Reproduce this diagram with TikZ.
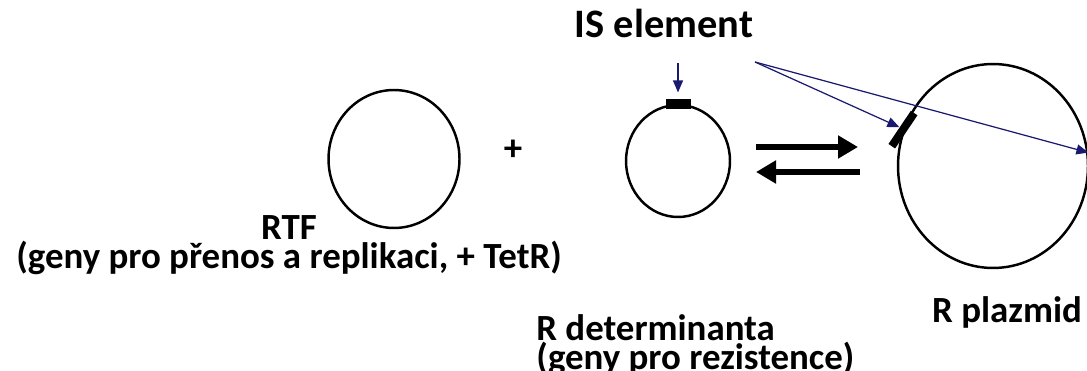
\documentclass[tikz,border=0pt]{standalone}
\usepackage{fontspec}
\setmainfont{Carlito}
\usetikzlibrary{shapes.geometric,arrows.meta}
\definecolor{isblue}{RGB}{25,25,112}
\tikzset{
  plasmid/.style={draw, ellipse, line width=1.4pt, inner sep=0pt},
  isbar/.style={fill=black, inner sep=0pt, minimum width=0.5cm, minimum height=0.2cm},
  ispointer/.style={isblue, line width=0.7pt, -{Triangle[length=0.24cm,width=0.2cm]}},
  eqarrow/.style={line width=0.14cm, -{Triangle[length=0.4cm,width=0.44cm]}}
}
\begin{document}
\begin{tikzpicture}[x=0.02cm, y=-0.02cm, inner sep=0pt,
    font=\bfseries\fontsize{21}{15.4}\selectfont]
  \useasboundingbox (0,0) rectangle (1087,371);
  % plasmids
  \node[plasmid, minimum width=2.62cm, minimum height=2.76cm] (rtf) at (394,159) {};
  \node[plasmid, minimum width=2.08cm, minimum height=2.24cm] (rdet) at (678,161) {};
  \node[plasmid, minimum width=3.8cm, minimum height=4.08cm] (rpl) at (993,166) {};
  % IS elements
  \node[isbar] (is1) at (rdet.north) {};
  \node[isbar, minimum width=0.8cm, minimum height=0.16cm, rotate=56] (is2) at (rpl.158) {};
  % labels
  \node[anchor=base, font=\bfseries\fontsize{23}{27}\selectfont] (istext) at (664,38) {IS element};
  \node[anchor=north, align=center] (rtftext) at (289,215) {RTF\\(geny pro přenos a replikaci, + TetR)};
  \node[anchor=north west, align=left] (rdettext) at (536,314) {R determinanta\\(geny pro rezistence)};
  \node[anchor=base] (rpltext) at (1007,322) {R plazmid};
  \node (plus) at (513,150) {+};
  % pointers
  \coordinate (isdown) at (678,63);
  \coordinate (isfrom) at (755,62);
  \draw[ispointer, shorten >=0.12cm] (isdown) -- (is1.north);
  \draw[ispointer] (isfrom) -- (is2.north);
  \draw[ispointer] (isfrom) -- (rpl.8);
  % equilibrium
  \coordinate (fwdstart) at (756,147);
  \coordinate (fwdend) at (858,147);
  \coordinate (backstart) at (860,172);
  \coordinate (backend) at (756,172);
  \draw[eqarrow] (fwdstart) -- (fwdend);
  \draw[eqarrow] (backstart) -- (backend);
\end{tikzpicture}
\end{document}
